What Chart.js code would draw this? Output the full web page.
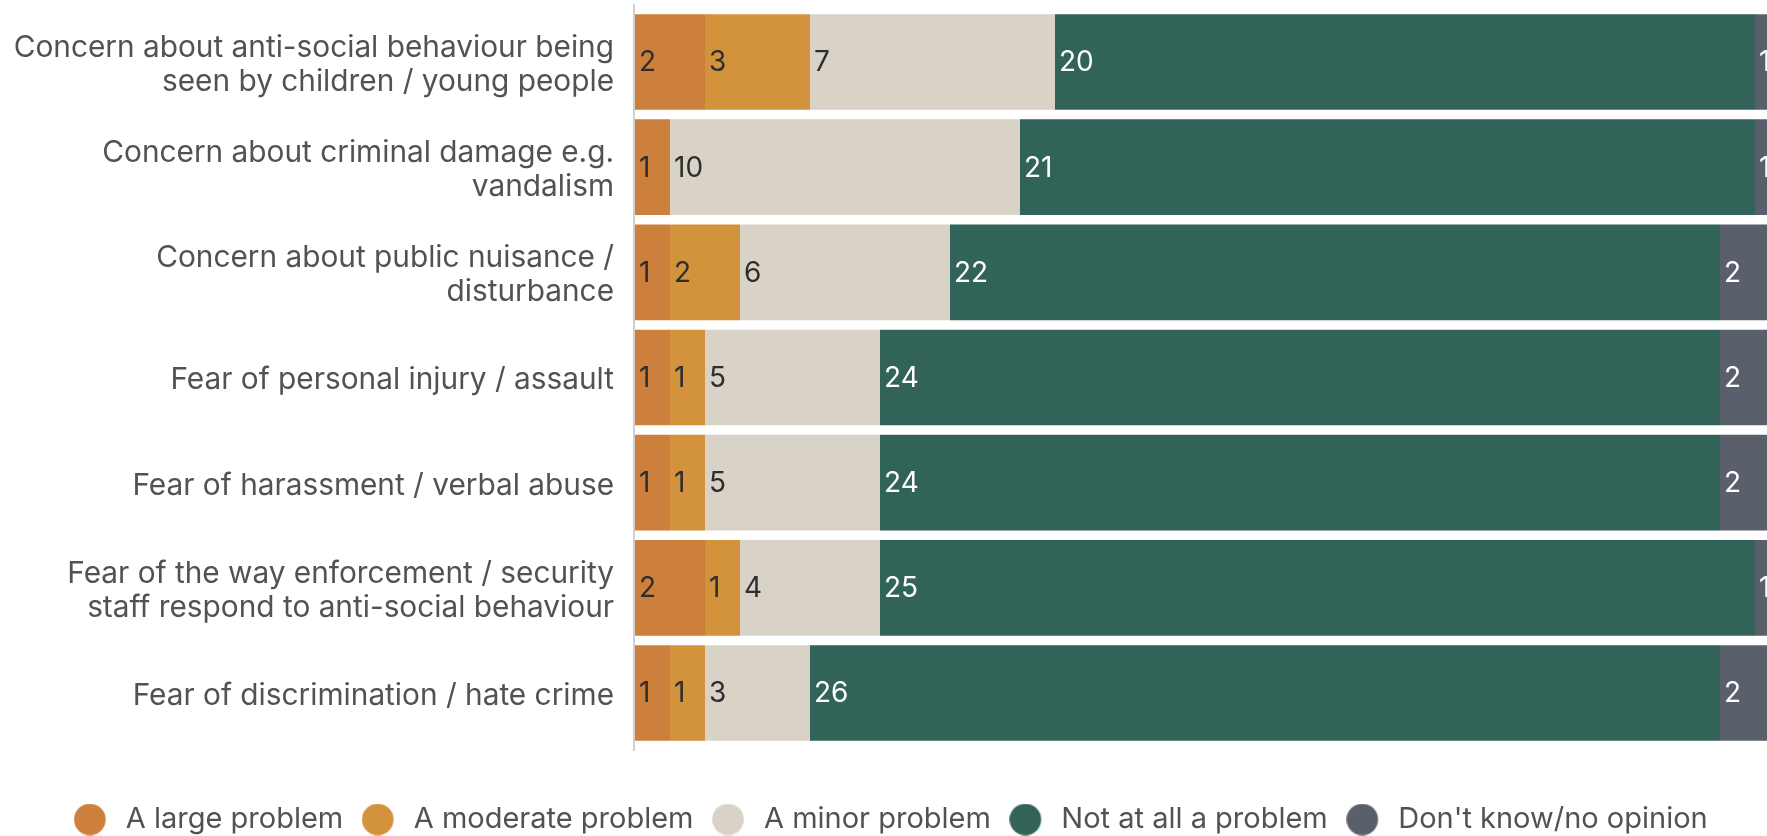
<!DOCTYPE html>
<html>
<head>
<meta charset="utf-8">
<script src="https://cdn.jsdelivr.net/npm/chart.js@4/dist/chart.umd.min.js"></script>
<style>
  html, body { margin: 0; padding: 0; background: #ffffff; overflow: hidden; }
  #wrap { width: 1790px; height: 844px; }
</style>
</head>
<body>
<div id="wrap"><canvas id="c" width="1790" height="844"></canvas></div>
<script>
const categories = [
  ["Concern about anti-social behaviour being", "seen by children / young people"],
  ["Concern about criminal damage e.g.", "vandalism"],
  ["Concern about public nuisance /", "disturbance"],
  "Fear of personal injury / assault",
  "Fear of harassment / verbal abuse",
  ["Fear of the way enforcement / security", "staff respond to anti-social behaviour"],
  "Fear of discrimination / hate crime"
];
const seriesNames = ["A large problem", "A moderate problem", "A minor problem", "Not at all a problem", "Don't know/no opinion"];
const largeProblem    = [2, 1, 1, 1, 1, 2, 1];
const moderateProblem = [3, 0, 2, 1, 1, 1, 1];
const minorProblem    = [7, 10, 6, 5, 5, 4, 3];
const notAProblem     = [20, 21, 22, 24, 24, 25, 26];
const dontKnow        = [1, 1, 2, 2, 2, 1, 2];

const seriesColors = ["#CD7F3C", "#D3923C", "#D9D3C7", "#326358", "#5A606B"];
const labelColors  = ["#2e2e2e", "#2e2e2e", "#2e2e2e", "#ffffff", "#ffffff"];
const FONT = "Inter, 'Liberation Sans', Arial, sans-serif";

function makeDot(color) {
  const cv = document.createElement('canvas');
  cv.width = 46; cv.height = 32;
  const g = cv.getContext('2d');
  g.fillStyle = color;
  g.beginPath();
  g.arc(16, 16, 15.8, 0, Math.PI * 2);
  g.fill();
  return cv;
}

const valueLabels = {
  id: 'valueLabels',
  afterDatasetsDraw(chart) {
    const ctx = chart.ctx;
    ctx.save();
    ctx.font = "28px " + FONT;
    ctx.textAlign = 'left';
    ctx.textBaseline = 'middle';
    chart.data.datasets.forEach((ds, i) => {
      const meta = chart.getDatasetMeta(i);
      meta.data.forEach((el, j) => {
        const v = ds.data[j];
        if (!v) return;
        const left = Math.min(el.base, el.x);
        ctx.fillStyle = labelColors[i];
        ctx.fillText(String(v), left + 4, el.y + 1);
      });
    });
    ctx.restore();
  }
};

const axisLine = {
  id: 'axisLine',
  afterDatasetsDraw(chart) {
    const a = chart.chartArea;
    const ctx = chart.ctx;
    ctx.save();
    ctx.strokeStyle = '#cfcfcf';
    ctx.lineWidth = 2;
    ctx.beginPath();
    ctx.moveTo(a.left - 1, a.top - 5.5);
    ctx.lineTo(a.left - 1, a.bottom + 5.5);
    ctx.stroke();
    ctx.restore();
  }
};

const seriesData = [largeProblem, moderateProblem, minorProblem, notAProblem, dontKnow];

new Chart(document.getElementById('c'), {
  type: 'bar',
  data: {
    labels: categories,
    datasets: seriesNames.map((name, i) => ({
      label: name,
      data: seriesData[i],
      backgroundColor: seriesColors[i],
      borderWidth: 0,
      categoryPercentage: 1.0,
      barPercentage: 0.91
    }))
  },
  options: {
    indexAxis: 'y',
    responsive: false,
    animation: false,
    devicePixelRatio: 1,
    layout: { padding: { top: 9.4, left: 0, right: 0, bottom: 0 } },
    scales: {
      x: {
        stacked: true,
        min: 0,
        max: 33,
        display: true,
        grid: { display: false, drawTicks: false },
        border: { display: false },
        ticks: { display: false },
        afterFit(axis) { axis.height = 32.4; axis.paddingLeft = 0; axis.paddingRight = 0; }
      },
      y: {
        stacked: true,
        grid: { display: false, drawTicks: false },
        border: { display: false },
        ticks: {
          color: '#525252',
          padding: 21,
          labelOffset: 3,
          font: { family: FONT, size: 29.8, lineHeight: 1.13 }
        },
        afterFit(axis) { axis.width = 635; axis.paddingTop = 0; axis.paddingBottom = 0; }
      }
    },
    plugins: {
      tooltip: { enabled: false },
      legend: {
        position: 'bottom',
        labels: {
          usePointStyle: true,
          padding: 27,
          color: '#525252',
          font: { family: FONT, size: 29 },
          generateLabels(chart) {
            const items = Chart.defaults.plugins.legend.labels.generateLabels(chart);
            items.forEach((it) => { it.pointStyle = makeDot(seriesColors[it.datasetIndex]); });
            return items;
          }
        }
      }
    }
  },
  plugins: [valueLabels, axisLine]
});
</script>
</body>
</html>
